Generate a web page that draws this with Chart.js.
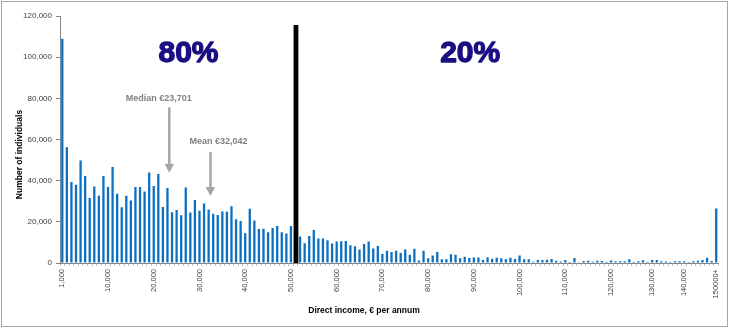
<!DOCTYPE html>
<html>
<head>
<meta charset="utf-8">
<title>Direct income distribution</title>
<script src="https://cdn.jsdelivr.net/npm/chart.js@4.4.1/dist/chart.umd.min.js"></script>
<style>
  html, body { margin: 0; padding: 0; background: #fff; }
  #frame { position: relative; width: 731px; height: 329px; }
  #frame canvas { display: block; }
  #frame .edge {
    position: absolute; left: 1px; top: 1px; width: 725px; height: 324px;
    border: 1px solid #a6a6a6; pointer-events: none;
  }
</style>
</head>
<body>
<div id="frame">
  <canvas id="incomeChart" width="731" height="329"></canvas>
  <div class="edge"></div>
</div>
<script>
// number of individuals per €1,000 income band (last band is 150000+)
const individuals = [
  109000, 56200, 39300, 38000, 49800, 42300, 31600, 37200, 32700, 42300,
  36900, 46600, 33600, 27100, 32700, 30400, 36900, 36900, 34700, 44000,
  37400, 43200, 27200, 36400, 24600, 25700, 23200, 36700, 24500, 30600,
  25400, 28900, 26000, 23900, 23300, 25000, 24900, 27600, 21300, 20400,
  14500, 26300, 20600, 16500, 16600, 15000, 17000, 18000, 15000, 14300,
  18000, 13000, 12900, 9600, 13100, 16000, 11900, 11900, 11000, 9500,
  10400, 10600, 10700, 8600, 8100, 6500, 9200, 10400, 7000, 8300,
  4400, 6000, 5400, 5900, 4800, 6500, 4000, 6900, 1200, 6000,
  2300, 3600, 5300, 1800, 1800, 4300, 4000, 2300, 3000, 2400,
  2700, 2700, 1400, 2800, 2100, 2600, 2300, 1800, 2500, 1900,
  3600, 1800, 1800, 600, 1500, 1500, 1600, 1900, 1100, 700,
  1400, 500, 2400, 400, 1000, 1100, 600, 1100, 1000, 500,
  1200, 900, 900, 900, 1800, 500, 800, 1300, 500, 1400,
  1400, 900, 700, 500, 900, 900, 900, 500, 800, 1100,
  1500, 2600, 1000, 26500
];

// labelled bands on the income axis
const tickLabels = ['1,000', '10,000', '20,000', '30,000', '40,000', '50,000', '60,000', '70,000',
  '80,000', '90,000', '100,000', '110,000', '120,000', '130,000', '140,000', '150000+'];
const tickIndex = [0, 10, 20, 30, 40, 50, 60, 70, 80, 90, 100, 110, 120, 129, 136, 143];

// 80/20 split and its shares
const shares = ['80%', '20%'];
const shareAt = [27.6, 89.2];
const shareLevel = 97500;
const splitAt = 51.1;
const splitTop = 115600;

// median and mean markers
const markerLabels = ['Median €23,701', 'Mean €32,042'];
const markerAt = [23.4, 32.4];
const markerFrom = [75600, 54000];
const markerTo = [43800, 32600];
const markerText = [80000, 58900];
const markerShift = [-10.5, 8];

const labels = individuals.map((_, i) => {
  const k = tickIndex.indexOf(i);
  return k >= 0 ? tickLabels[k] : '';
});

const FONT = '"Liberation Sans", Arial, sans-serif';
Chart.defaults.font.family = FONT;

const overlay = {
  id: 'overlay',
  afterDatasetsDraw(chart) {
    const {ctx, chartArea, scales: {x, y}} = chart;
    ctx.save();

    // black split bar at €50,000
    const sx = x.getPixelForValue(splitAt);
    const sTop = y.getPixelForValue(splitTop);
    ctx.fillStyle = '#000';
    ctx.fillRect(sx - 2.4, sTop, 4.8, y.getPixelForValue(0) - sTop);

    // share captions, stroked as well to get a heavy face
    ctx.font = 'bold 30px ' + FONT;
    ctx.fillStyle = '#1a0f82';
    ctx.strokeStyle = '#1a0f82';
    ctx.lineWidth = 1.3;
    ctx.lineJoin = 'round';
    ctx.textAlign = 'center';
    ctx.textBaseline = 'alphabetic';
    shares.forEach((s, i) => {
      const px = x.getPixelForValue(shareAt[i]);
      const py = y.getPixelForValue(shareLevel);
      ctx.fillText(s, px, py);
      ctx.strokeText(s, px, py);
    });

    // median / mean arrows
    markerLabels.forEach((txt, i) => {
      const ax = x.getPixelForValue(markerAt[i]);
      const y0 = y.getPixelForValue(markerFrom[i]);
      const y1 = y.getPixelForValue(markerTo[i]);
      ctx.strokeStyle = '#a6a6a6';
      ctx.fillStyle = '#a6a6a6';
      ctx.lineWidth = 2.5;
      ctx.beginPath();
      ctx.moveTo(ax, y0);
      ctx.lineTo(ax, y1 - 7);
      ctx.stroke();
      ctx.beginPath();
      ctx.moveTo(ax - 4.8, y1 - 9);
      ctx.lineTo(ax + 4.8, y1 - 9);
      ctx.lineTo(ax, y1);
      ctx.closePath();
      ctx.fill();

      ctx.font = 'bold 9px ' + FONT;
      ctx.fillStyle = '#808080';
      ctx.textAlign = 'center';
      ctx.textBaseline = 'middle';
      ctx.fillText(txt, ax + markerShift[i], y.getPixelForValue(markerText[i]));
    });

    // axis titles
    ctx.fillStyle = '#000';
    ctx.font = 'bold 8.5px ' + FONT;
    ctx.textAlign = 'center';
    ctx.textBaseline = 'middle';
    ctx.fillText('Direct income, € per annum', 364, 311);
    ctx.translate(19.5, (chartArea.top + chartArea.bottom) / 2 + 15);
    ctx.rotate(-Math.PI / 2);
    ctx.fillText('Number of individuals', 0, 0);

    ctx.restore();
  }
};

new Chart(document.getElementById('incomeChart'), {
  type: 'bar',
  data: {
    labels: labels,
    datasets: [{
      label: 'Number of individuals',
      data: individuals,
      backgroundColor: '#0b6fc2',
      barPercentage: 0.5,
      categoryPercentage: 1.0
    }]
  },
  options: {
    responsive: false,
    animation: false,
    layout: { padding: { top: 16, right: 12.5, left: 0, bottom: 0 } },
    plugins: {
      legend: { display: false },
      tooltip: { enabled: false }
    },
    scales: {
      x: {
        grid: { display: true, drawOnChartArea: false, tickLength: 3, color: '#bfbfbf' },
        border: { color: '#868686' },
        ticks: {
          autoSkip: false,
          minRotation: 90,
          maxRotation: 90,
          padding: 3,
          color: '#404040',
          font: { size: 7.5 },
          callback(value) { return this.getLabelForValue(value); }
        },
        afterFit(scale) { scale.height = 66; }
      },
      y: {
        min: 0,
        max: 120000,
        grid: { display: true, drawOnChartArea: false, tickLength: 4, color: '#868686' },
        border: { color: '#868686' },
        ticks: {
          stepSize: 20000,
          padding: 4,
          color: '#404040',
          font: { size: 8 },
          callback: v => v.toLocaleString('en-US')
        },
        afterFit(scale) { scale.width = 60; }
      }
    }
  },
  plugins: [overlay]
});
</script>
</body>
</html>
